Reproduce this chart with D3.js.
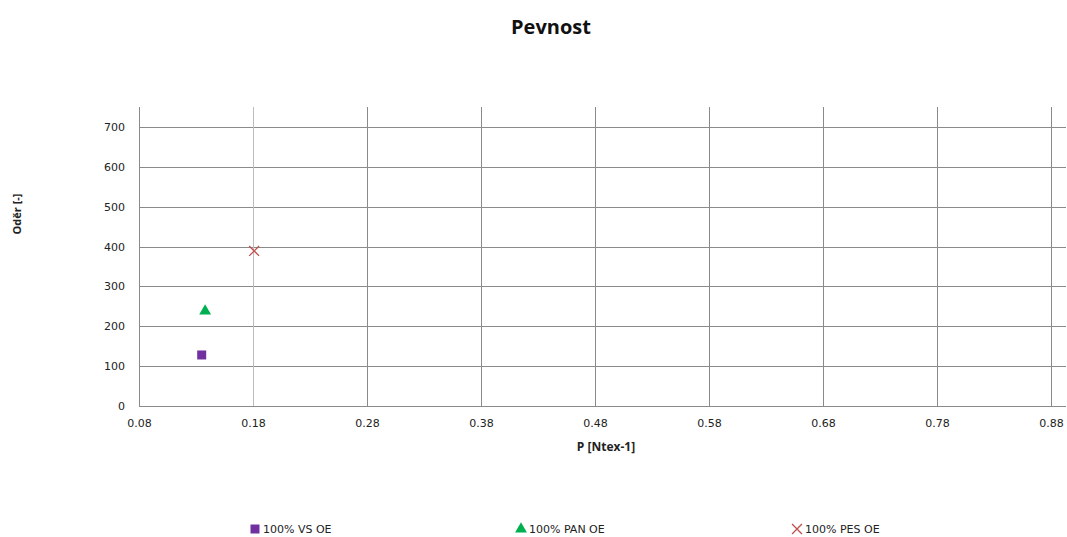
<!DOCTYPE html>
<html lang="en">
<head>
<meta charset="utf-8">
<title>Pevnost</title>
<script src="https://d3js.org/d3.v7.min.js"></script>
<style>
  html, body { margin: 0; padding: 0; background: #fff; }
  text { font-family: "DejaVu Sans", Verdana, sans-serif; fill: #222; }
  .grid line { stroke: #8a8a8a; stroke-width: 1px; shape-rendering: crispEdges; }
  .axis path, .axis line { display: none; }
  .axis text { font-size: 11px; }
</style>
</head>
<body>
<script>
// data
var seriesNames = ["100% VS OE", "100% PAN OE", "100% PES OE"];
var seriesP = [0.135, 0.138, 0.181];
var seriesOder = [128, 238, 389];
var seriesColors = ["#7030a0", "#00b050", "#c0504d"];
var seriesSymbols = ["square", "triangle", "cross"];
var xTicks = [0.08, 0.18, 0.28, 0.38, 0.48, 0.58, 0.68, 0.78, 0.88];
var yTicks = [0, 100, 200, 300, 400, 500, 600, 700];

var W = 1067, H = 537;
var margin = {left: 139, right: 1, top: 107, bottom: 131};
var width = W - margin.left - margin.right;
var height = H - margin.top - margin.bottom;

var svg = d3.select("body").append("svg").attr("width", W).attr("height", H);

var x = d3.scaleLinear().domain([0.08, 0.08 + width / 1140]).range([0, width]);
var y = d3.scaleLinear().domain([0, 750]).range([height, 0]);

var g = svg.append("g").attr("transform", "translate(" + margin.left + "," + margin.top + ")");

// horizontal grid
g.append("g").attr("class", "grid")
  .selectAll("line").data(yTicks).enter().append("line")
  .attr("x1", 0).attr("x2", width)
  .attr("y1", function(d) { return Math.round(y(d)) + 0.5; })
  .attr("y2", function(d) { return Math.round(y(d)) + 0.5; });

// vertical grid
g.append("g").attr("class", "grid")
  .selectAll("line").data(xTicks).enter().append("line")
  .attr("x1", function(d) { return Math.round(x(d)) + 0.5; })
  .attr("x2", function(d) { return Math.round(x(d)) + 0.5; })
  .attr("y1", 0).attr("y2", height)
  .style("stroke", function(d, i) { return i == 1 ? "#bdbdbd" : null; });

g.append("g").attr("class", "axis")
  .attr("transform", "translate(0," + height + ")")
  .call(d3.axisBottom(x).tickValues(xTicks).tickFormat(d3.format(".2f")).tickSize(0).tickPadding(13));

g.append("g").attr("class", "axis")
  .call(d3.axisLeft(y).tickValues(yTicks).tickSize(0).tickPadding(14));

function drawSymbol(sel, type, color, size) {
  if (type == "cross") {
    var s = size * 0.55;
    sel.append("path")
      .attr("d", "M" + (-s) + "," + (-s) + "L" + s + "," + s + "M" + (-s) + "," + s + "L" + s + "," + (-s))
      .attr("stroke", color).attr("stroke-width", 1.3).attr("fill", "none");
  } else {
    var sym = type == "square" ? d3.symbolSquare : d3.symbolTriangle;
    sel.append("path")
      .attr("d", d3.symbol().type(sym).size(size * size * (type == "square" ? 1 : 0.75))())
      .attr("fill", color);
  }
}

seriesNames.forEach(function(n, i) {
  var p = g.append("g")
    .attr("transform", "translate(" + x(seriesP[i]) + "," + y(seriesOder[i]) + ")");
  drawSymbol(p, seriesSymbols[i], seriesColors[i], 9);
});

// titles
svg.append("text").attr("x", 551).attr("y", 34).attr("text-anchor", "middle")
  .style("font-family", "'Open Sans', sans-serif").style("font-weight", "bold").style("font-size", "20px")
  .style("fill", "#111").text("Pevnost");

svg.append("text").attr("x", 606).attr("y", 451).attr("text-anchor", "middle")
  .style("font-family", "'Open Sans', sans-serif").style("font-weight", "bold").style("font-size", "12px")
  .text("P [Ntex-1]");

svg.append("text").attr("transform", "translate(21,214) rotate(-90)").attr("text-anchor", "middle")
  .style("font-family", "'Open Sans', sans-serif").style("font-weight", "bold").style("font-size", "11px")
  .text("Oděr [-]");

// legend
var legendX = [255, 521, 797];
seriesNames.forEach(function(n, i) {
  var lg = svg.append("g").attr("transform", "translate(" + legendX[i] + ",529)");
  drawSymbol(lg, seriesSymbols[i], seriesColors[i], 9);
  lg.append("text").attr("x", 8).attr("y", 4).style("font-size", "11px").text(n);
});
</script>
</body>
</html>
